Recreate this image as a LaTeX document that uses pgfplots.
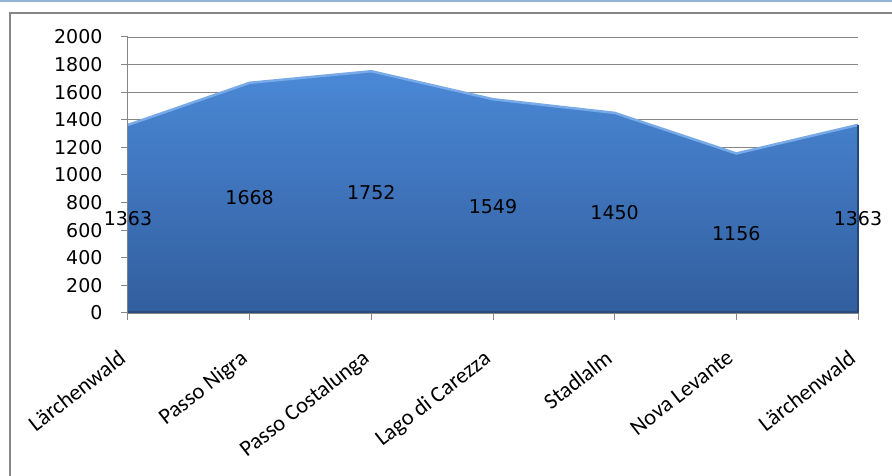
\documentclass[border=0pt]{standalone}
\usepackage{pgfplots}
\pgfplotsset{compat=1.18}
\usepackage{pgfplotstable}
\usepackage{fontspec}
\setmainfont{DejaVu Sans}
\newfontfamily\calib{Carlito}
\definecolor{gridc}{RGB}{134,134,134}
\definecolor{topband}{RGB}{149,179,215}
\definecolor{areatop}{RGB}{74,136,214}
\definecolor{areabot}{RGB}{50,94,158}
\definecolor{ridge}{RGB}{120,170,232}
\definecolor{edgec}{RGB}{38,70,120}
\pgfplotstableread{
x y
0 1363
1 1668
2 1752
3 1549
4 1450
5 1156
6 1363
}\data
\begin{document}
\begin{tikzpicture}
\useasboundingbox (0pt,0pt) rectangle (892pt,476pt);
\fill[topband] (0pt,474pt) rectangle (892pt,476pt);
\draw[gridc, line width=2.5pt] (10pt,0pt) -- (10pt,463pt) -- (892pt,463pt);
\begin{axis}[
  at={(128pt,163pt)}, anchor=origin,
  scale only axis, width=730pt, height=276pt,
  xmin=0, xmax=6, ymin=0, ymax=2000,
  ytick={0,200,...,2000}, xtick={0,...,6},
  xticklabels={Lärchenwald, Passo Nigra, Passo Costalunga, Lago di Carezza, Stadlalm, Nova Levante, Lärchenwald},
  axis lines*=left, axis line style={gridc, line width=1pt, -},
  tick align=outside, major tick length=7pt,
  tick style={gridc, line width=1pt},
  ymajorgrids, grid style={gridc, line width=0.9pt},
  /pgf/number format/assume math mode=true,
  /pgf/number format/1000 sep={},
  yticklabel style={font=\fontsize{19}{19}\selectfont, anchor=east, xshift=-15pt},
  xticklabel style={font=\calib\fontsize{22.5}{22.5}\selectfont, rotate=38, anchor=north east, inner sep=0pt, xshift=-26pt, yshift=-16pt},
  clip=false,
]
\addplot[draw=none, top color=areatop, bottom color=areabot] table[x=x,y=y] {\data} \closedcycle;
\addplot[ridge, line width=2.5pt] table[x=x,y=y] {\data};
\addplot[edgec, line width=2.5pt] coordinates {(6,0) (6,1363)};
\addplot[edgec!80!areabot, line width=2pt] coordinates {(0,10) (6,10)};
\addplot[draw=none, mark=none, nodes near coords, point meta=explicit,
  every node near coord/.append style={anchor=center, font=\fontsize{19}{19}\selectfont, text=black}]
  table[x=x, y expr=\thisrow{y}/2, meta=y] {\data};
\end{axis}
\end{tikzpicture}
\end{document}
